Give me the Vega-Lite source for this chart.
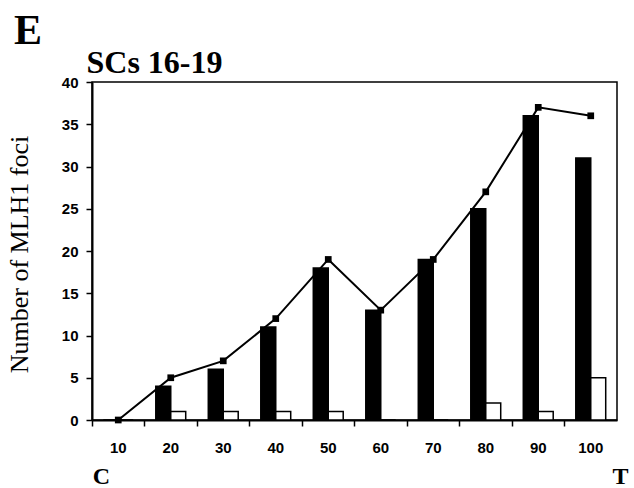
{
  "$schema": "https://vega.github.io/schema/vega-lite/v6.json",
  "width": 525,
  "height": 338,
  "autosize": "none",
  "padding": {"left": 92, "top": 82, "right": 17, "bottom": 68},
  "background": "white",
  "config": {
    "view": {"stroke": "black", "strokeWidth": 1.5},
    "font": "Liberation Sans",
    "axis": {"grid": false}
  },
  "title": {
    "text": "E",
    "font": "Liberation Serif",
    "fontSize": 42,
    "fontWeight": "bold",
    "color": "black",
    "anchor": "start",
    "frame": "group",
    "baseline": "alphabetic",
    "dx": -78,
    "dy": 40,
    "offset": 0
  },
  "datasets": {
    "bars": [
      {"pos": 10, "kind": "black", "n": 0},
      {"pos": 10, "kind": "white", "n": 0},
      {"pos": 20, "kind": "black", "n": 4},
      {"pos": 20, "kind": "white", "n": 1},
      {"pos": 30, "kind": "black", "n": 6},
      {"pos": 30, "kind": "white", "n": 1},
      {"pos": 40, "kind": "black", "n": 11},
      {"pos": 40, "kind": "white", "n": 1},
      {"pos": 50, "kind": "black", "n": 18},
      {"pos": 50, "kind": "white", "n": 1},
      {"pos": 60, "kind": "black", "n": 13},
      {"pos": 60, "kind": "white", "n": 0},
      {"pos": 70, "kind": "black", "n": 19},
      {"pos": 70, "kind": "white", "n": 0},
      {"pos": 80, "kind": "black", "n": 25},
      {"pos": 80, "kind": "white", "n": 2},
      {"pos": 90, "kind": "black", "n": 36},
      {"pos": 90, "kind": "white", "n": 1},
      {"pos": 100, "kind": "black", "n": 31},
      {"pos": 100, "kind": "white", "n": 5}
    ],
    "total": [
      {"pos": 10, "n": 0},
      {"pos": 20, "n": 5},
      {"pos": 30, "n": 7},
      {"pos": 40, "n": 12},
      {"pos": 50, "n": 19},
      {"pos": 60, "n": 13},
      {"pos": 70, "n": 19},
      {"pos": 80, "n": 27},
      {"pos": 90, "n": 37},
      {"pos": 100, "n": 36}
    ]
  },
  "layer": [
    {
      "data": {"name": "bars"},
      "mark": {"type": "bar", "stroke": "black", "strokeWidth": 1.5},
      "encoding": {
        "x": {
          "field": "pos",
          "type": "ordinal",
          "scale": {"paddingInner": 0.43, "paddingOuter": 0.215},
          "axis": {
            "orient": "bottom",
            "labelAngle": 0,
            "labelFont": "Liberation Sans",
            "labelFontSize": 15,
            "labelFontWeight": "bold",
            "labelColor": "black",
            "labelPadding": 14,
            "bandPosition": -0.377,
            "tickSize": 6,
            "tickColor": "black",
            "tickWidth": 1.5,
            "domainColor": "black",
            "domainWidth": 2,
            "title": "C",
            "titleFont": "Liberation Serif",
            "titleFontSize": 24,
            "titleFontWeight": "bold",
            "titleColor": "black",
            "titleX": 9,
            "titleY": 63,
            "titleAlign": "center",
            "titleBaseline": "alphabetic"
          }
        },
        "xOffset": {"field": "kind", "type": "nominal", "scale": {"domain": ["black", "white"]}},
        "y": {
          "field": "n",
          "type": "quantitative",
          "scale": {"domain": [0, 40]},
          "axis": {
            "orient": "left",
            "values": [0, 5, 10, 15, 20, 25, 30, 35, 40],
            "labelFont": "Liberation Sans",
            "labelFontSize": 15,
            "labelFontWeight": "bold",
            "labelColor": "black",
            "labelPadding": 8,
            "tickSize": 6,
            "tickColor": "black",
            "tickWidth": 1.5,
            "domainColor": "black",
            "domainWidth": 2,
            "title": "Number of MLH1 foci",
            "titleFont": "Liberation Serif",
            "titleFontSize": 26,
            "titleFontWeight": "normal",
            "titleColor": "black",
            "titleAngle": -90,
            "titleX": -73,
            "titleY": 172,
            "titleAlign": "center",
            "titleBaseline": "middle"
          }
        },
        "color": {
          "field": "kind",
          "type": "nominal",
          "scale": {"domain": ["black", "white"], "range": ["black", "white"]},
          "legend": null
        }
      }
    },
    {
      "data": {"name": "total"},
      "mark": {
        "type": "line",
        "color": "black",
        "strokeWidth": 2,
        "point": {"shape": "square", "filled": true, "size": 45, "color": "black"}
      },
      "encoding": {
        "x": {
          "field": "pos",
          "type": "ordinal",
          "axis": {
            "orient": "top",
            "labels": false,
            "ticks": false,
            "domain": false,
            "title": "SCs 16-19",
            "titleFont": "Liberation Serif",
            "titleFontSize": 32,
            "titleFontWeight": "bold",
            "titleColor": "black",
            "titleX": -6,
            "titleY": -10,
            "titleAlign": "left",
            "titleBaseline": "alphabetic"
          }
        },
        "y": {
          "field": "n",
          "type": "quantitative",
          "axis": {
            "orient": "right",
            "labels": false,
            "ticks": false,
            "domain": false,
            "title": "T",
            "titleAngle": 0,
            "titleFont": "Liberation Serif",
            "titleFontSize": 24,
            "titleFontWeight": "bold",
            "titleColor": "black",
            "titleX": 3,
            "titleY": 401,
            "titleAlign": "center",
            "titleBaseline": "alphabetic"
          }
        }
      }
    }
  ],
  "resolve": {"axis": {"x": "independent", "y": "independent"}}
}
